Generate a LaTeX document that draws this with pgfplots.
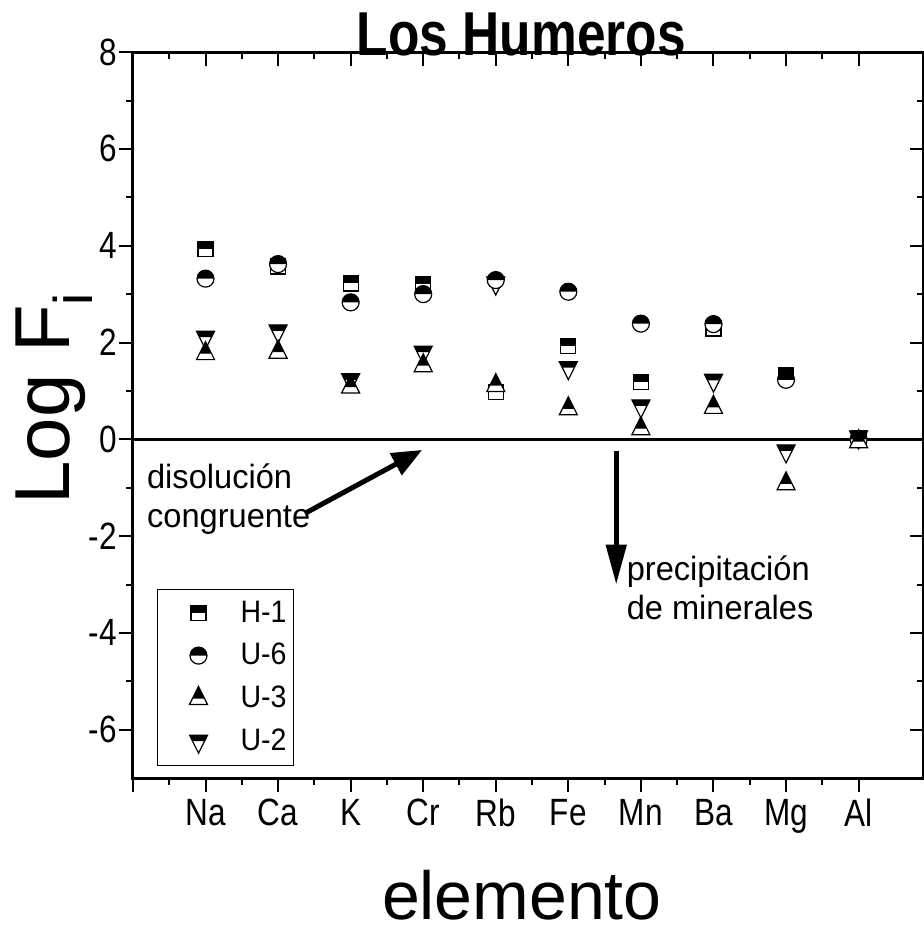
\documentclass[border=0pt]{standalone}
\usepackage{fontspec}
\setmainfont{Liberation Sans}
\newfontfamily\condfont[FakeStretch=0.83]{Liberation Sans}
\newfontfamily\annfontfam[FakeStretch=0.97]{Liberation Sans}
\newfontfamily\legfontfam[FakeStretch=0.92]{Liberation Sans}
\usepackage{pgfplots}
\pgfplotsset{compat=1.18}
\usetikzlibrary{arrows.meta}
\newcommand{\ticklab}{\condfont\fontsize{19}{22}\selectfont}
\newcommand{\annfont}{\annfontfam\fontsize{16.8}{19.5}\selectfont}
\newcommand{\legfont}{\legfontfam\fontsize{15.5}{18}\selectfont}

% half-filled markers (upper half black)
\pgfdeclareplotmark{hsq}{%
  \pgfsetfillcolor{white}%
  \pgfpathrectangle{\pgfpoint{-3.75pt}{-3.75pt}}{\pgfpoint{7.5pt}{7.5pt}}\pgfusepath{fill}%
  \pgfsetfillcolor{black}%
  \pgfpathrectangle{\pgfpoint{-3.75pt}{0pt}}{\pgfpoint{7.5pt}{3.75pt}}\pgfusepath{fill}%
  \pgfpathrectangle{\pgfpoint{-3.75pt}{-3.75pt}}{\pgfpoint{7.5pt}{7.5pt}}\pgfusepath{stroke}%
}
\pgfdeclareplotmark{hci}{%
  \pgfsetfillcolor{white}%
  \pgfpathcircle{\pgfpointorigin}{4.25pt}\pgfusepath{fill}%
  \pgfsetfillcolor{black}%
  \pgfpathmoveto{\pgfpoint{4.25pt}{0pt}}\pgfpatharc{0}{180}{4.25pt}\pgfpathclose\pgfusepath{fill}%
  \pgfpathcircle{\pgfpointorigin}{4.25pt}\pgfusepath{stroke}%
}
\pgfdeclareplotmark{htu}{%
  \pgfsetfillcolor{white}%
  \pgfpathmoveto{\pgfpoint{0pt}{6pt}}\pgfpathlineto{\pgfpoint{-4.5pt}{-3pt}}\pgfpathlineto{\pgfpoint{4.5pt}{-3pt}}\pgfpathclose\pgfusepath{fill}%
  \pgfsetfillcolor{black}%
  \pgfpathmoveto{\pgfpoint{0pt}{6pt}}\pgfpathlineto{\pgfpoint{-3pt}{0pt}}\pgfpathlineto{\pgfpoint{3pt}{0pt}}\pgfpathclose\pgfusepath{fill}%
  \pgfpathmoveto{\pgfpoint{0pt}{6pt}}\pgfpathlineto{\pgfpoint{-4.5pt}{-3pt}}\pgfpathlineto{\pgfpoint{4.5pt}{-3pt}}\pgfpathclose\pgfusepath{stroke}%
}
\pgfdeclareplotmark{htd}{%
  \pgfsetfillcolor{white}%
  \pgfpathmoveto{\pgfpoint{0pt}{-6pt}}\pgfpathlineto{\pgfpoint{-4.5pt}{3pt}}\pgfpathlineto{\pgfpoint{4.5pt}{3pt}}\pgfpathclose\pgfusepath{fill}%
  \pgfsetfillcolor{black}%
  \pgfpathmoveto{\pgfpoint{-4.5pt}{3pt}}\pgfpathlineto{\pgfpoint{4.5pt}{3pt}}\pgfpathlineto{\pgfpoint{3pt}{0pt}}\pgfpathlineto{\pgfpoint{-3pt}{0pt}}\pgfpathclose\pgfusepath{fill}%
  \pgfpathmoveto{\pgfpoint{0pt}{-6pt}}\pgfpathlineto{\pgfpoint{-4.5pt}{3pt}}\pgfpathlineto{\pgfpoint{4.5pt}{3pt}}\pgfpathclose\pgfusepath{stroke}%
}

% Log F_i values, elements at x = 1..10 (Na Ca K Cr Rb Fe Mn Ba Mg Al)
\pgfplotstableread{
x  y
1  3.93
2  3.57
3  3.22
4  3.21
5  0.97
6  1.93
7  1.18
8  2.29
9  1.33
10 0.02
}\tabHone
\pgfplotstableread{
x  y
1  3.32
2  3.62
3  2.83
4  3.00
5  3.29
6  3.05
7  2.39
8  2.38
9  1.23
10 0.00
}\tabUsix
\pgfplotstableread{
x  y
1  1.77
2  1.80
3  1.08
4  1.52
5  1.11
6  0.63
7  0.22
8  0.66
9  -0.92
10 -0.05
}\tabUthree
\pgfplotstableread{
x  y
1  2.11
2  2.24
3  1.23
4  1.80
5  3.23
6  1.48
7  0.69
8  1.22
9  -0.24
10 0.05
}\tabUtwo

\begin{document}
\begin{tikzpicture}
\begin{axis}[
  scale only axis, width=395.5pt, height=363pt,
  xmin=0, xmax=10.9, ymin=-7, ymax=8,
  clip=false,
  axis line style={line width=1.5pt},
  xtick={0,...,10}, xticklabels={{},Na,Ca,K,Cr,Rb,Fe,Mn,Ba,Mg,Al},
  ytick={-6,-4,...,8},
  minor x tick num=1, minor y tick num=1,
  xtick pos=left, ytick pos=left, tick align=outside,
  major tick length=7pt, minor tick length=3.5pt,
  tick style={black, line width=1pt},
  ticklabel style={font=\ticklab},
  yticklabel style={inner xsep=1pt},
  /pgf/number format/assume math mode=true,
  legend cell align=left,
  legend style={at={(0.0303,0.2607)}, anchor=north west, draw=black, line width=0.6pt,
    font=\legfont, inner xsep=3.5pt, inner ysep=5.75pt, row sep=9pt,
    nodes={inner sep=0pt},
    /tikz/every odd column/.append style={column sep=16pt}},
  legend image code/.code={\path[draw=none] (-17pt,0pt) -- (5pt,0pt); \draw[#1] plot coordinates {(0pt,0pt)};},
]
\addplot[line width=1.6pt, black, forget plot] coordinates {(0,0) (10.9,0)};
\addplot[only marks, mark=hsq, black, line width=0.6pt, forget plot] table[x=x,y=y] {\tabHone};
\addplot[only marks, mark=htd, black, line width=0.6pt, forget plot] table[x=x,y=y] {\tabUtwo};
\addplot[only marks, mark=hci, black, line width=0.6pt, forget plot] table[x=x,y=y] {\tabUsix};
\addplot[only marks, mark=htu, black, line width=0.6pt, forget plot] table[x=x,y=y] {\tabUthree};
\addlegendimage{only marks, mark=hsq, black, line width=0.6pt}
\addlegendentry{H-1}
\addlegendimage{only marks, mark=hci, black, line width=0.6pt}
\addlegendentry{U-6}
\addlegendimage{only marks, mark=htu, black, line width=0.6pt}
\addlegendentry{U-3}
\addlegendimage{only marks, mark=htd, black, line width=0.6pt}
\addlegendentry{U-2}

\draw[line width=2.5pt, -{Triangle[length=15pt,width=12pt]}] (axis cs:2.37,-1.53) -- (axis cs:3.985,-0.22);
\draw[line width=2.5pt, -{Triangle[length=20pt,width=10pt]}] (axis cs:6.66,-0.25) -- (axis cs:6.66,-3.0);

\node[anchor=north west, inner sep=0pt, align=left, font=\annfont] at (axis cs:0.19,-0.50) {disolución\\congruente};
\node[anchor=north west, inner sep=0pt, align=left, font=\annfont] at (axis cs:6.80,-2.39) {precipitación\\de minerales};

\node[anchor=base, inner sep=0pt, font=\condfont\bfseries\fontsize{31}{32}\selectfont] at (axis cs:5.353,7.94) {Los Humeros};
\node[anchor=base, inner sep=0pt, font=\fontsize{34}{36}\selectfont] at (axis cs:5.36,-9.93) {elemento};
\node[anchor=base west, rotate=90, inner sep=0pt, font=\fontsize{39}{40}\selectfont] at (axis cs:-0.868,-1.357) {Log F\textsubscript{i}};

\coordinate (bbll) at (axis cs:-1.832,-10.407);
\coordinate (bbur) at (axis cs:10.9,9.077);
\end{axis}
\begin{axis}[
  scale only axis, width=395.5pt, height=363pt,
  xmin=0, xmax=10.9, ymin=-7, ymax=8,
  axis line style={draw=none},
  xtick={0,...,10}, xticklabels={},
  ytick={-6,-4,...,8}, yticklabels={},
  minor x tick num=1, minor y tick num=1,
  xtick pos=right, ytick pos=right, tick align=inside,
  major tick length=7pt, minor tick length=3.5pt,
  tick style={black, line width=1pt},
]
\end{axis}
\pgfresetboundingbox
\useasboundingbox (bbll) rectangle (bbur);
\end{tikzpicture}
\end{document}
